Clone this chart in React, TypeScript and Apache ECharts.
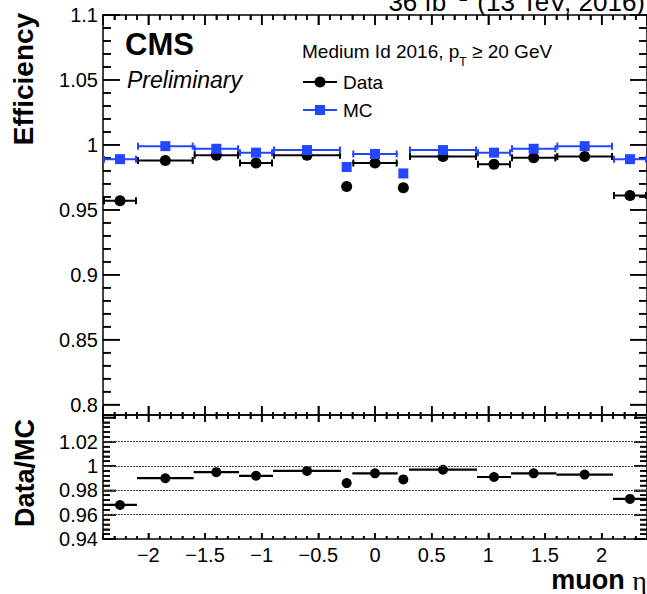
import React, { useEffect, useRef } from "react";
import * as echarts from "echarts";

// ---- data ----
const binEdges = [-2.4, -2.1, -1.6, -1.2, -0.9, -0.3, -0.2, 0.2, 0.3, 0.9, 1.2, 1.6, 2.1, 2.4];
const dataEff = [0.957, 0.988, 0.992, 0.986, 0.992, 0.968, 0.986, 0.967, 0.991, 0.985, 0.990, 0.991, 0.961];
const mcEff = [0.989, 0.999, 0.997, 0.994, 0.996, 0.983, 0.993, 0.978, 0.996, 0.994, 0.997, 0.999, 0.989];
const ratioVals = [0.968, 0.990, 0.995, 0.992, 0.996, 0.986, 0.994, 0.989, 0.997, 0.991, 0.994, 0.993, 0.973];
const xTickLabels = [-2, -1.5, -1, -0.5, 0, 0.5, 1, 1.5, 2];
const effLabels = [0.8, 0.85, 0.9, 0.95, 1, 1.05, 1.1];
const ratioLabels = [0.94, 0.96, 0.98, 1, 1.02];
const ratioGridLines = [0.96, 0.98, 1, 1.02];

const X_MIN = -2.4, X_MAX = 2.4;
const UP_MIN = 0.792, UP_MAX = 1.1;
const R_MIN = 0.94, R_MAX = 1.042;

// tick positions (axis decoration): minor every 0.1 / 0.01 / 0.004, major every 0.5 / 0.05 / 0.02
const xTickVals = Array.from({ length: 47 }, (_, i) => Math.round((-2.3 + i * 0.1) * 10) / 10);
const upTickVals = Array.from({ length: 31 }, (_, i) => Math.round((0.8 + i * 0.01) * 100) / 100);
const rTickVals = Array.from({ length: 26 }, (_, i) => Math.round((0.94 + i * 0.004) * 1000) / 1000);
const isMult = (v: number, step: number) => Math.abs(v / step - Math.round(v / step)) < 1e-6;

const FONT = "'Liberation Sans', Arial, Helvetica, sans-serif";
const BLUE = "#2346ff";
const TICK_W = 1.5;

const centers = binEdges.slice(0, -1).map((lo, i) => (lo + binEdges[i + 1]) / 2);
const barData = (vals: number[]) => vals.map((v, i) => [centers[i], binEdges[i], binEdges[i + 1], v]);
const ptData = (vals: number[]) => vals.map((v, i) => [centers[i], v]);

const fmtNum = (v: number) => {
  const s = String(Math.round(v * 1000) / 1000);
  return v < 0 ? "\u2212" + s.slice(1) : s;
};

function errBar(color: string, caps: boolean, lw: number, minLen: number) {
  return (params: any, api: any) => {
    const y = api.value(3);
    const p1 = api.coord([api.value(1), y]);
    const p2 = api.coord([api.value(2), y]);
    const children: any[] = [];
    if (p2[0] - p1[0] > minLen) {
      children.push({ type: "line", shape: { x1: p1[0], y1: p1[1], x2: p2[0], y2: p2[1] }, style: { stroke: color, lineWidth: lw } });
      if (caps) {
        children.push({ type: "line", shape: { x1: p1[0] + 1, y1: p1[1] - 3.5, x2: p1[0] + 1, y2: p1[1] + 3.5 }, style: { stroke: color, lineWidth: 2 } });
        children.push({ type: "line", shape: { x1: p2[0] - 1, y1: p2[1] - 3.5, x2: p2[0] - 1, y2: p2[1] + 3.5 }, style: { stroke: color, lineWidth: 2 } });
      }
    }
    return { type: "group", children };
  };
}

// frame ticks of one panel (inside, on all four sides), placed through the axis scales
function tickGroup(yVals: number[], yStep: number, yMin: number, yMax: number, L: { b: number[]; t: number[]; y: number[] }) {
  return (params: any, api: any) => {
    const xl = api.coord([X_MIN, yMin])[0];
    const xr = api.coord([X_MAX, yMin])[0];
    const yb = api.coord([0, yMin])[1];
    const yt = api.coord([0, yMax])[1];
    const children: any[] = [];
    xTickVals.forEach((v) => {
      const maj = isMult(v, 0.5);
      const px = api.coord([v, yMin])[0];
      const lb = maj ? L.b[0] : L.b[1];
      const lt = maj ? L.t[0] : L.t[1];
      children.push({ type: "line", shape: { x1: px, y1: yb, x2: px, y2: yb - lb }, style: { stroke: "#000", lineWidth: TICK_W } });
      children.push({ type: "line", shape: { x1: px, y1: yt, x2: px, y2: yt + lt }, style: { stroke: "#000", lineWidth: TICK_W } });
    });
    yVals.forEach((v) => {
      const maj = isMult(v, yStep);
      const py = api.coord([0, v])[1];
      const ly = maj ? L.y[0] : L.y[1];
      children.push({ type: "line", shape: { x1: xl, y1: py, x2: xl + ly, y2: py }, style: { stroke: "#000", lineWidth: TICK_W } });
      children.push({ type: "line", shape: { x1: xr, y1: py, x2: xr - ly, y2: py }, style: { stroke: "#000", lineWidth: TICK_W } });
    });
    return { type: "group", children };
  };
}

function axisCommon(min: number, max: number, step: number, majorLen: number, minorLen: number, labels?: number[], labelMargin = 5) {
  return {
    type: "value", min, max,
    minInterval: step, maxInterval: step, splitNumber: Math.max(1, Math.round((max - min) / step)),
    axisLine: { show: true, onZero: false, lineStyle: { color: "#000", width: 1.5 } },
    axisTick: { show: true, inside: true, length: majorLen, lineStyle: { color: "#000", width: TICK_W } },
    minorTick: { show: true, splitNumber: 5, length: minorLen, lineStyle: { color: "#000", width: TICK_W } },
    minorSplitLine: { show: false },
    axisLabel: labels
      ? { show: true, customValues: labels, formatter: fmtNum, fontFamily: FONT, fontSize: 20, color: "#000", margin: labelMargin }
      : { show: false },
    splitLine: { show: false },
  };
}

const xAx = (grid: number, pos: string, majorLen: number, minorLen: number, labels?: number[]) => ({
  ...axisCommon(X_MIN, X_MAX, 0.5, majorLen, minorLen, labels, 6), gridIndex: grid, position: pos,
});
const yAx = (grid: number, pos: string, min: number, max: number, step: number, majorLen: number, minorLen: number, labels?: number[]) => ({
  ...axisCommon(min, max, step, majorLen, minorLen, labels, 5), gridIndex: grid, position: pos,
});

function measure(txt: string, font: string) {
  const c = document.createElement("canvas").getContext("2d");
  if (!c) return txt.length * 10;
  c.font = font;
  return c.measureText(txt).width;
}

export default function App() {
  const ref = useRef<HTMLDivElement>(null);
  useEffect(() => {
    if (!ref.current) return;
    const chart = echarts.init(ref.current, null, { renderer: "svg" });

    const hx = 302;
    const h1 = "Medium Id 2016, p";
    const w1 = measure(h1, `19px ${FONT}`);
    const wT = measure("T", `12px ${FONT}`);

    const option: any = {
      animation: false,
      grid: [
        { left: 103, top: 15, width: 545, height: 400 },
        { left: 103, top: 415, width: 545, height: 124 },
      ],
      xAxis: [
        xAx(0, "bottom", 9, 3),
        xAx(0, "top", 10, 5),
        xAx(1, "bottom", 6, 3, xTickLabels),
        xAx(1, "top", 7, 4),
      ],
      yAxis: [
        yAx(0, "left", UP_MIN, UP_MAX, 0.05, 17, 8, effLabels),
        yAx(0, "right", UP_MIN, UP_MAX, 0.05, 17, 8),
        yAx(1, "left", R_MIN, R_MAX, 0.02, 13, 7, ratioLabels),
        yAx(1, "right", R_MIN, R_MAX, 0.02, 13, 7),
      ],
      series: [
        {
          type: "custom", xAxisIndex: 0, yAxisIndex: 0, silent: true,
          renderItem: tickGroup(upTickVals, 0.05, UP_MIN, UP_MAX, { b: [9, 3], t: [10, 5], y: [17, 8] }),
          data: [[0, 1, 0, 1]], encode: { x: [0, 2], y: [1, 3] },
        },
        {
          type: "custom", xAxisIndex: 2, yAxisIndex: 2, silent: true,
          renderItem: tickGroup(rTickVals, 0.02, R_MIN, R_MAX, { b: [6, 3], t: [7, 4], y: [13, 7] }),
          data: [[0, 1, 0, 1]], encode: { x: [0, 2], y: [1, 3] },
        },
        {
          type: "custom", xAxisIndex: 0, yAxisIndex: 0, silent: true,
          renderItem: errBar("#000", true, 2, 14), data: barData(dataEff), encode: { x: [1, 2], y: 3 },
        },
        {
          type: "scatter", xAxisIndex: 0, yAxisIndex: 0, silent: true, data: ptData(dataEff),
          symbol: "circle", symbolSize: 11, itemStyle: { color: "#000", opacity: 1 },
        },
        {
          type: "custom", xAxisIndex: 0, yAxisIndex: 0, silent: true,
          renderItem: errBar(BLUE, true, 2, 14), data: barData(mcEff), encode: { x: [1, 2], y: 3 },
        },
        {
          type: "scatter", xAxisIndex: 0, yAxisIndex: 0, silent: true, data: ptData(mcEff),
          symbol: "rect", symbolSize: 10, itemStyle: { color: BLUE, opacity: 1 },
        },
        {
          type: "custom", xAxisIndex: 2, yAxisIndex: 2, silent: true,
          renderItem: errBar("#000", false, 2.2, 14), data: barData(ratioVals), encode: { x: [1, 2], y: 3 },
          markLine: {
            silent: true, symbol: "none", label: { show: false },
            lineStyle: { type: [2, 1], color: "#444", width: 1 },
            data: ratioGridLines.map((v) => ({ yAxis: v })),
          },
        },
        {
          type: "scatter", xAxisIndex: 2, yAxisIndex: 2, silent: true, data: ptData(ratioVals),
          symbol: "circle", symbolSize: 10, itemStyle: { color: "#000", opacity: 1 },
        },
      ],
      graphic: [
        {
          type: "text", x: 645, y: 2,
          style: {
            text: "{a|36 fb}{s|\u22121}{a| (13 TeV, 2016)}", align: "right", verticalAlign: "middle",
            rich: {
              a: { fontFamily: FONT, fontSize: 26, fill: "#000" },
              s: { fontFamily: FONT, fontSize: 17, fill: "#000", padding: [0, 2, 14, 2] },
            },
          },
        },
        {
          type: "text", x: 125, y: 44,
          style: { text: "CMS", fontFamily: FONT, fontSize: 31, fontWeight: "bold", fill: "#000", align: "left", verticalAlign: "middle" },
        },
        {
          type: "text", x: 127, y: 80,
          style: { text: "Preliminary", fontFamily: FONT, fontSize: 23, fontStyle: "italic", fill: "#000", align: "left", verticalAlign: "middle" },
        },
        {
          type: "text", x: hx, y: 51,
          style: { text: h1, fontFamily: FONT, fontSize: 19, fill: "#000", align: "left", verticalAlign: "middle" },
        },
        {
          type: "text", x: hx + w1, y: 62,
          style: { text: "T", fontFamily: FONT, fontSize: 12, fill: "#000", align: "left", verticalAlign: "middle" },
        },
        {
          type: "text", x: hx + w1 + wT, y: 51,
          style: { text: " \u2265 20 GeV", fontFamily: FONT, fontSize: 19, fill: "#000", align: "left", verticalAlign: "middle" },
        },
        { type: "line", shape: { x1: 303, y1: 82, x2: 337, y2: 82 }, style: { stroke: "#000", lineWidth: 2 } },
        { type: "circle", shape: { cx: 320, cy: 82, r: 5.5 }, style: { fill: "#000" } },
        {
          type: "text", x: 343, y: 82,
          style: { text: "Data", fontFamily: FONT, fontSize: 19, fill: "#000", align: "left", verticalAlign: "middle" },
        },
        { type: "line", shape: { x1: 303, y1: 110, x2: 337, y2: 110 }, style: { stroke: BLUE, lineWidth: 2 } },
        { type: "rect", shape: { x: 315, y: 105, width: 10, height: 10 }, style: { fill: BLUE } },
        {
          type: "text", x: 343, y: 110,
          style: { text: "MC", fontFamily: FONT, fontSize: 19, fill: "#000", align: "left", verticalAlign: "middle" },
        },
        {
          type: "text", x: 23, y: 79, rotation: Math.PI / 2,
          style: { text: "Efficiency", fontFamily: FONT, fontSize: 28, fontWeight: "bold", fill: "#000", align: "center", verticalAlign: "middle" },
        },
        {
          type: "text", x: 25, y: 473, rotation: Math.PI / 2,
          style: { text: "Data/MC", fontFamily: FONT, fontSize: 27, fontWeight: "bold", fill: "#000", align: "center", verticalAlign: "middle" },
        },
        {
          type: "text", x: 647, y: 580,
          style: {
            text: "{b|muon }{g|\u03B7}", align: "right", verticalAlign: "middle",
            rich: {
              b: { fontFamily: FONT, fontSize: 27, fontWeight: "bold", fill: "#000" },
              g: { fontFamily: "'Liberation Serif', 'DejaVu Serif', serif", fontSize: 28, fill: "#000" },
            },
          },
        },
      ],
    };
    chart.setOption(option);
    return () => chart.dispose();
  }, []);
  return <div ref={ref} style={{ position: "absolute", left: 0, top: 0, width: 647, height: 594 }} />;
}
